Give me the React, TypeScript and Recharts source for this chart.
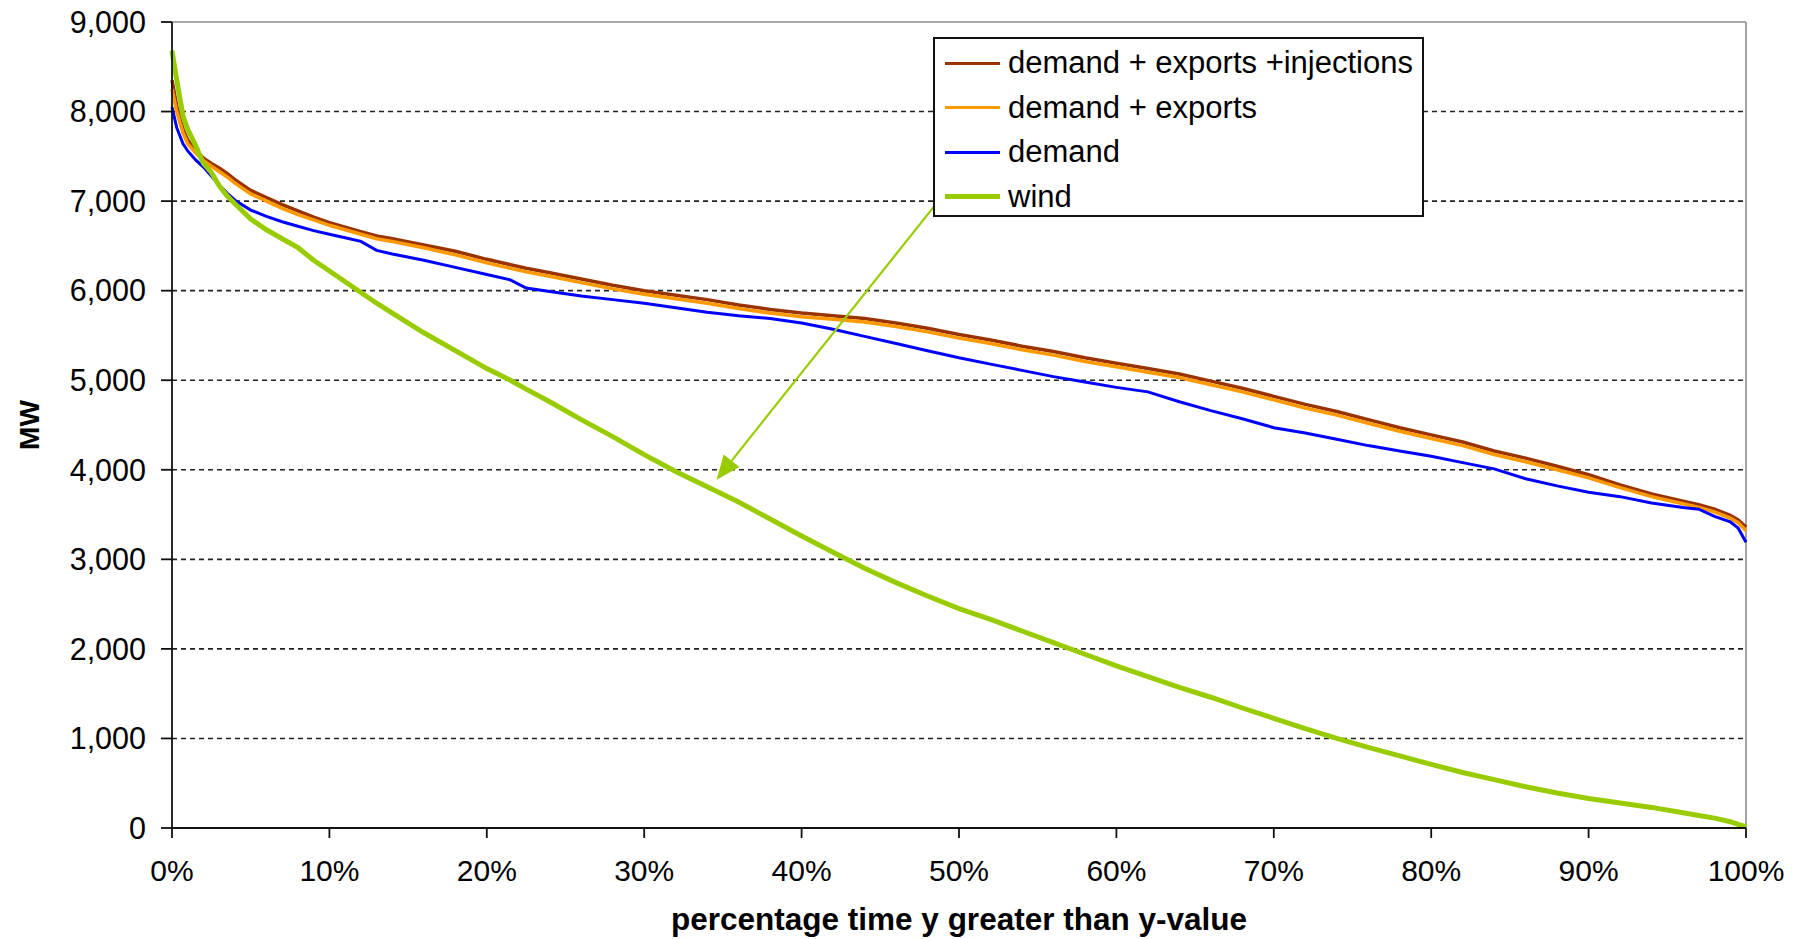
import React from 'react';
import { LineChart, Line, XAxis, YAxis, ReferenceLine, Legend, Label } from 'recharts';

const PCT = [0, 0.3, 0.7, 1, 1.5, 2, 2.5, 3, 3.5, 4, 5, 6, 7, 8, 9, 10, 11, 12, 13, 14, 16, 18, 20, 21.5, 22.5, 24, 26, 28, 30, 32, 34, 36, 38, 40, 42, 44, 46, 48, 50, 52, 54, 56, 58, 60, 62, 64, 66, 68, 70, 72, 74, 76, 78, 80, 82, 84, 86, 88, 90, 92, 94, 96, 97, 98, 99, 99.5, 100];

const DEMAND_EXPORTS_INJECTIONS = [8350, 8060, 7800, 7680, 7570, 7480, 7420, 7370, 7310, 7240, 7120, 7040, 6960, 6890, 6820, 6760, 6710, 6660, 6610, 6580, 6510, 6440, 6350, 6290, 6250, 6200, 6130, 6060, 6000, 5950, 5900, 5840, 5790, 5750, 5720, 5690, 5640, 5580, 5510, 5450, 5380, 5320, 5250, 5190, 5130, 5070, 4990, 4910, 4820, 4730, 4650, 4560, 4470, 4390, 4310, 4210, 4130, 4040, 3945, 3830, 3730, 3650, 3610, 3560, 3490, 3440, 3360];

const DEMAND_EXPORTS = [8250, 8000, 7760, 7640, 7540, 7450, 7390, 7330, 7270, 7200, 7080, 7000, 6920, 6850, 6790, 6730, 6680, 6630, 6580, 6550, 6480, 6400, 6310, 6250, 6210, 6160, 6090, 6020, 5960, 5910, 5860, 5800, 5750, 5710, 5680, 5650, 5600, 5540, 5470, 5410, 5340, 5280, 5210, 5150, 5090, 5030, 4950, 4870, 4780, 4690, 4610, 4520, 4430, 4350, 4270, 4170, 4090, 4000, 3910, 3800, 3700, 3620, 3580, 3530, 3460, 3410, 3320];

const DEMAND = [8050, 7820, 7640, 7560, 7460, 7380, 7280, 7180, 7090, 7010, 6900, 6830, 6770, 6720, 6670, 6630, 6590, 6550, 6450, 6410, 6340, 6260, 6180, 6120, 6030, 5990, 5940, 5900, 5860, 5810, 5760, 5720, 5690, 5640, 5570, 5490, 5410, 5330, 5250, 5180, 5110, 5040, 4980, 4920, 4870, 4760, 4660, 4570, 4470, 4410, 4340, 4270, 4210, 4150, 4080, 4010, 3900, 3820, 3750, 3700, 3630, 3580, 3560, 3480, 3420, 3350, 3190];

const WIND = [8680, 8350, 7950, 7800, 7620, 7420, 7320, 7170, 7060, 6970, 6800, 6680, 6580, 6480, 6340, 6220, 6100, 5980, 5860, 5750, 5530, 5330, 5130, 5000, 4900, 4760, 4560, 4370, 4170, 3980, 3810, 3640, 3450, 3260, 3080, 2900, 2740, 2590, 2450, 2330, 2200, 2070, 1940, 1810, 1690, 1570, 1460, 1340, 1225, 1110, 1000, 900, 805, 710, 620, 540, 460, 390, 330, 280, 230, 170, 140, 110, 70, 40, 15];

const X_TICKS = [0, 10, 20, 30, 40, 50, 60, 70, 80, 90, 100];
const Y_TICKS = [0, 1000, 2000, 3000, 4000, 5000, 6000, 7000, 8000, 9000];
const GRID_VALUES = [1000, 2000, 3000, 4000, 5000, 6000, 7000, 8000];

const SERIES = [
  { key: 'dei', name: 'demand + exports +injections', color: '#993300', width: 3.5 },
  { key: 'de', name: 'demand + exports', color: '#FF9900', width: 3.5 },
  { key: 'demand', name: 'demand', color: '#0000FF', width: 3 },
  { key: 'wind', name: 'wind', color: '#99CC00', width: 5 },
];

const ARROW_FROM = { x: 49, y: 7070 };
const ARROW_TO = { x: 34.6, y: 3890 };

const FONT = '"Liberation Sans", Arial, sans-serif';

const data = PCT.map((p, i) => ({
  pct: p,
  dei: DEMAND_EXPORTS_INJECTIONS[i],
  de: DEMAND_EXPORTS[i],
  demand: DEMAND[i],
  wind: WIND[i],
}));

const ArrowShape = (props: any) => {
  const { x1, y1, x2, y2 } = props;
  if ([x1, y1, x2, y2].some((v) => typeof v !== 'number' || isNaN(v))) return null;
  const dx = x2 - x1;
  const dy = y2 - y1;
  const len = Math.sqrt(dx * dx + dy * dy);
  const ux = dx / len;
  const uy = dy / len;
  const headLen = 24;
  const headHalf = 10;
  const bx = x2 - ux * headLen;
  const by = y2 - uy * headLen;
  const px = -uy;
  const py = ux;
  const pts = `${x2},${y2} ${bx + px * headHalf},${by + py * headHalf} ${bx - px * headHalf},${by - py * headHalf}`;
  return (
    <g>
      <line x1={x1} y1={y1} x2={bx} y2={by} stroke="#99CC00" strokeWidth={2.2} />
      <polygon points={pts} fill="#99CC00" />
    </g>
  );
};

const LegendBox = () => (
  <div
    style={{
      boxSizing: 'border-box',
      width: 491,
      height: 180,
      border: '2px solid #111',
      background: '#fff',
      paddingTop: 2,
      fontFamily: FONT,
      fontSize: 31,
      color: '#000',
    }}
  >
    {SERIES.map((s) => (
      <div key={s.key} style={{ display: 'flex', alignItems: 'center', height: 44.5 }}>
        <div style={{ width: 55, height: s.key === 'wind' ? 5 : 3, background: s.color, marginLeft: 10, marginRight: 8 }} />
        <span style={{ whiteSpace: 'nowrap' }}>{s.name}</span>
      </div>
    ))}
  </div>
);

const YTitle = (props: any) => {
  const vb = props.viewBox || {};
  const cx = vb.x + 21;
  const cy = vb.y + vb.height / 2;
  return (
    <text x={cx} y={cy} transform={`rotate(-90, ${cx}, ${cy})`} textAnchor="middle" dominantBaseline="central" fontFamily={FONT} fontWeight="bold" fontSize={28} fill="#000">
      MW
    </text>
  );
};

const XTitle = (props: any) => {
  const vb = props.viewBox || {};
  const cx = vb.x + vb.width / 2;
  const cy = vb.y + 102;
  return (
    <text x={cx} y={cy} textAnchor="middle" fontFamily={FONT} fontWeight="bold" fontSize={31.5} fill="#000">
      percentage time y greater than y-value
    </text>
  );
};

export default function App() {
  return (
    <div style={{ width: 1786, height: 931, background: '#fff' }}>
      <style>{`.recharts-surface { overflow: visible; }`}</style>
      <LineChart width={1786} height={931} data={data} margin={{ top: 14, right: 48, bottom: 0, left: 0 }}>
        {GRID_VALUES.map((v) => (
          <ReferenceLine key={v} y={v} stroke="#222" strokeWidth={1.6} strokeDasharray="5 4" />
        ))}
        <ReferenceLine y={9000} stroke="#8c8c8c" strokeWidth={1.6} />
        <ReferenceLine x={100} stroke="#8c8c8c" strokeWidth={1.6} />
        <XAxis
          dataKey="pct"
          type="number"
          domain={[0, 100]}
          ticks={X_TICKS}
          interval={0}
          tickFormatter={(v: number) => `${v}%`}
          height={111}
          tickSize={10}
          tickMargin={22}
          axisLine={{ stroke: '#111', strokeWidth: 1.8 }}
          tickLine={{ stroke: '#111', strokeWidth: 1.8 }}
          tick={{ fill: '#000', fontSize: 30, fontFamily: FONT }}
        >
          <Label content={<XTitle />} />
        </XAxis>
        <YAxis
          type="number"
          domain={[0, 9000]}
          ticks={Y_TICKS}
          interval={0}
          tickFormatter={(v: number) => v.toLocaleString('en-US')}
          width={164}
          tickSize={11}
          tickMargin={15}
          axisLine={{ stroke: '#111', strokeWidth: 1.8 }}
          tickLine={{ stroke: '#111', strokeWidth: 1.8 }}
          tick={{ fill: '#000', fontSize: 30.5, fontFamily: FONT }}
        >
          <Label content={<YTitle />} />
        </YAxis>
        {SERIES.map((s) => (
          <Line
            key={s.key}
            type="linear"
            dataKey={s.key}
            name={s.name}
            stroke={s.color}
            strokeWidth={s.width}
            dot={false}
            activeDot={false}
            isAnimationActive={false}
          />
        ))}
        <ReferenceLine segment={[ARROW_FROM, ARROW_TO]} shape={<ArrowShape />} />
        <Legend
          layout="vertical"
          align="center"
          verticalAlign="middle"
          content={() => <LegendBox />}
          wrapperStyle={{ left: 925, top: 29, width: 491, height: 180 }}
        />
      </LineChart>
    </div>
  );
}
